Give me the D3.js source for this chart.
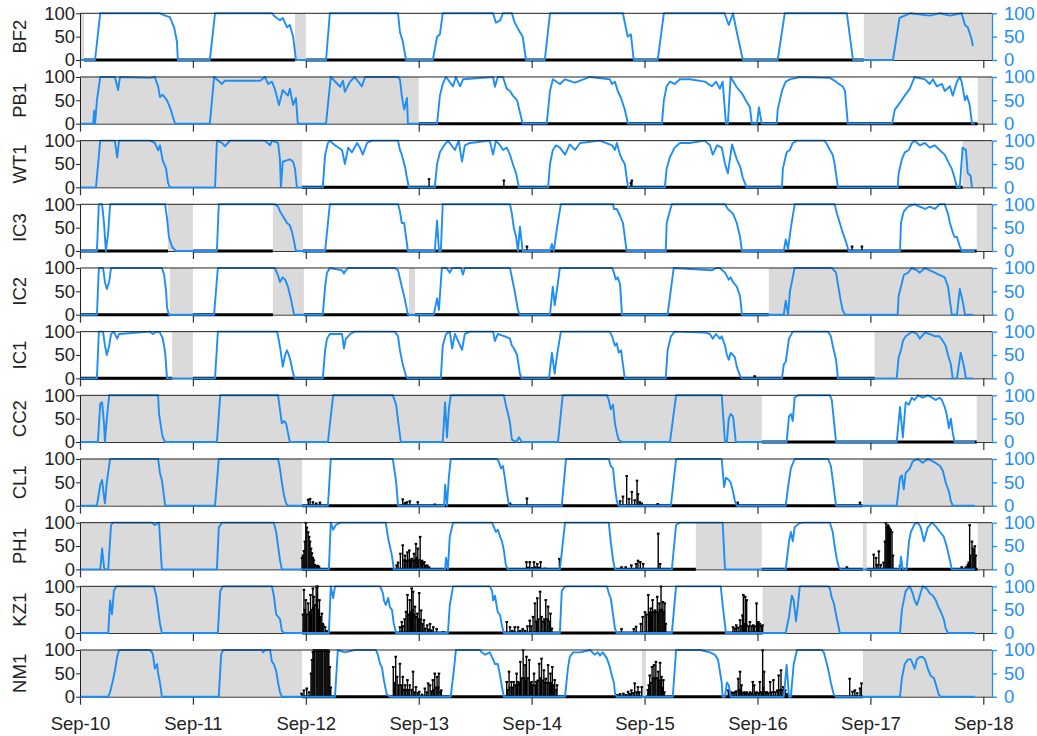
<!DOCTYPE html>
<html><head><meta charset="utf-8">
<script src="https://cdn.jsdelivr.net/npm/d3@7"></script>
<style>
body{margin:0;background:#fff}
svg{display:block}
text{font-family:"Liberation Sans",Arial,Helvetica,sans-serif}
</style>
</head><body>
<svg id="chart" width="1037" height="736"></svg>
<script>
// ---------- DATA (time = hours since Sep-10 00:00, value = %) ----------
const stations = ["BF2","PB1","WT1","IC3","IC2","IC1","CC2","CL1","PH1","KZ1","NM1"];
const tickLabels = ["Sep-10","Sep-11","Sep-12","Sep-13","Sep-14","Sep-15","Sep-16","Sep-17","Sep-18"];
const yTicks = [0,50,100];
const dataEndHour = 190.4;

const blueBF2 = [[0,0],[3.2,0],[4.3,100],[17.0,100],[18.1,95],[19.1,92],[20.0,70],[20.6,40],[20.8,0],[27.6,0],[28.7,100],[40.8,100],[41.4,93],[42.5,85],[43.1,90],[44.0,70],[44.6,75],[45.3,50],[45.9,0],[52.3,0],[53.1,100],[67.6,100],[68.0,60],[68.6,40],[69.3,0],[75.0,0],[75.9,50],[76.5,55],[77.1,100],[87.8,100],[88.4,80],[89.3,85],[89.9,100],[91.8,100],[92.4,80],[93.5,60],[94.1,50],[94.8,0],[98.8,0],[99.9,100],[115.4,100],[116.0,70],[116.4,50],[117.1,55],[117.7,0],[122.8,0],[124.1,100],[137.0,100],[137.9,75],[138.8,100],[139.6,60],[140.9,0],[148.3,0],[149.8,100],[163.0,100],[164.3,0],[172.8,0],[174.2,90],[176.4,100],[180.6,95],[182.7,100],[184.9,95],[187.4,100],[188.1,75],[188.7,70],[189.5,45],[189.8,30]];
const bluePB1 = [[0,0],[2.8,0],[3.0,28],[3.2,0],[3.6,50],[4.3,100],[7.4,100],[8.1,72],[8.5,100],[14.9,98],[15.9,100],[16.6,80],[17.0,57],[17.6,62],[18.5,50],[19.3,30],[20.2,0],[27.6,0],[28.5,100],[30.2,85],[30.8,92],[38.3,92],[39.3,100],[40.0,85],[40.8,90],[41.4,75],[42.3,40],[43.1,72],[44.2,60],[44.6,75],[45.3,40],[45.9,55],[46.3,0],[52.3,0],[53.3,100],[55.3,79],[55.9,92],[56.3,68],[57.4,90],[58.4,100],[59.9,80],[60.6,100],[67.6,100],[68.0,95],[68.4,60],[68.9,30],[69.5,55],[69.7,0],[75.9,0],[76.5,60],[77.1,85],[77.8,100],[79.3,80],[79.9,100],[80.8,80],[81.4,95],[87.8,100],[88.2,79],[88.8,100],[89.9,100],[90.7,75],[91.4,70],[92.0,60],[92.9,50],[93.5,25],[94.1,0],[99.2,0],[99.9,70],[100.5,95],[102.0,85],[103.1,95],[105.2,88],[108.4,100],[112.6,95],[113.1,85],[113.7,90],[114.3,70],[115.0,55],[115.8,30],[116.5,0],[123.7,0],[124.1,50],[124.7,80],[125.4,90],[126.4,85],[127.5,95],[129.6,95],[132.8,90],[134.3,80],[135.2,90],[136.0,75],[136.6,90],[137.3,0],[137.7,0],[138.3,100],[139.6,78],[140.7,65],[141.5,50],[142.4,35],[142.8,0],[143.9,0],[144.3,35],[144.9,0],[148.1,0],[148.3,30],[149.2,70],[150.0,90],[150.9,95],[153.0,100],[159.4,98],[160.7,90],[161.3,85],[162.1,80],[162.6,70],[163.2,0],[172.6,0],[173.2,30],[174.3,45],[175.3,60],[176.4,75],[177.4,100],[179.6,95],[180.6,85],[181.3,95],[182.1,80],[183.2,85],[183.8,70],[184.9,80],[185.5,60],[186.4,90],[187.0,100],[187.4,90],[188.1,50],[188.5,60],[189.1,40],[189.6,0],[190.2,0]];
const blueWT1 = [[0,0],[3.4,0],[4.3,100],[7.4,100],[7.9,64],[8.3,100],[14.9,100],[15.9,95],[16.6,79],[17.0,90],[17.6,57],[18.3,40],[18.7,10],[19.1,0],[28.7,0],[29.1,100],[30.2,95],[30.8,88],[31.9,100],[39.3,100],[40.4,90],[40.8,100],[42.1,95],[42.5,60],[42.7,0],[43.1,55],[44.6,60],[45.3,55],[45.7,40],[46.1,0],[51.6,0],[52.1,70],[52.7,95],[53.1,100],[54.2,90],[55.7,80],[56.3,50],[57.0,85],[57.8,75],[58.9,95],[59.5,85],[60.1,70],[61.0,95],[62.1,100],[67.6,100],[68.0,80],[68.4,70],[69.1,43],[69.5,20],[69.9,0],[75.4,0],[75.9,50],[76.5,75],[77.4,90],[78.2,100],[79.7,80],[80.5,100],[81.2,55],[81.8,90],[82.9,95],[87.1,100],[87.8,70],[88.4,100],[89.3,90],[89.9,80],[90.7,85],[91.4,70],[92.0,50],[92.7,30],[93.3,0],[99.5,0],[99.9,50],[100.5,80],[101.2,90],[102.0,85],[103.1,70],[104.1,92],[105.2,80],[106.3,95],[110.5,100],[113.1,90],[113.7,80],[114.1,95],[114.8,70],[115.2,60],[115.8,50],[116.2,20],[116.5,0],[124.3,0],[124.7,40],[125.4,65],[126.4,85],[127.5,95],[129.6,95],[132.8,100],[133.9,90],[134.5,70],[135.4,90],[136.4,85],[137.1,50],[137.7,30],[138.6,92],[139.6,60],[140.3,45],[140.9,20],[141.7,0],[149.2,0],[149.4,40],[150.2,75],[150.9,80],[151.5,95],[152.4,100],[158.3,100],[158.9,90],[159.4,80],[160.0,70],[160.4,50],[161.1,0],[173.8,0],[174.0,30],[174.7,60],[175.3,75],[176.2,80],[176.8,95],[177.4,100],[178.5,90],[179.6,95],[180.6,85],[181.7,90],[182.7,80],[183.8,70],[184.5,55],[185.3,40],[185.9,20],[186.4,0],[187.0,0],[187.6,85],[188.3,80],[188.7,30],[189.3,25],[189.6,0]];
const blueIC3 = [[0,0],[3.6,0],[4.0,100],[4.7,100],[5.1,60],[5.5,0],[6.0,40],[6.4,100],[18.1,100],[18.5,70],[18.9,30],[19.6,8],[20.4,0],[29.1,0],[29.5,100],[41.4,100],[42.1,95],[42.5,85],[43.1,75],[44.0,60],[44.6,55],[45.1,40],[45.5,20],[45.9,0],[52.1,0],[53.1,100],[67.6,100],[68.0,85],[68.4,60],[68.9,60],[69.3,30],[69.7,0],[75.4,0],[75.9,65],[76.3,0],[76.7,0],[77.1,100],[91.4,100],[91.8,80],[92.2,50],[92.7,30],[93.1,0],[93.5,52],[94.1,0],[99.9,0],[100.3,15],[100.7,0],[101.4,50],[102.2,100],[113.3,100],[113.5,90],[114.1,90],[114.8,75],[115.4,60],[115.8,30],[116.2,0],[124.5,0],[124.7,60],[125.2,80],[125.8,100],[137.1,100],[137.7,90],[138.8,80],[139.6,60],[140.3,30],[140.7,0],[149.6,0],[150.0,25],[150.5,5],[151.1,50],[151.9,100],[160.4,100],[160.9,80],[161.5,60],[162.1,40],[162.8,20],[163.4,0],[174.3,0],[174.5,60],[175.1,85],[176.0,95],[177.4,100],[178.5,95],[179.6,90],[180.6,95],[181.7,90],[182.7,100],[183.8,100],[184.5,80],[184.9,60],[185.5,40],[185.9,30],[186.4,30],[187.0,10],[187.4,0],[190.2,0]];
const blueIC2 = [[0,0],[3.6,0],[4.0,100],[4.9,100],[5.3,70],[5.7,55],[6.2,70],[6.6,100],[17.4,100],[17.9,85],[18.3,50],[18.5,15],[18.9,0],[28.5,0],[29.3,100],[41.4,100],[42.1,84],[42.5,70],[43.1,80],[43.6,75],[44.2,60],[44.8,35],[45.5,0],[51.6,0],[52.1,60],[52.5,90],[53.1,100],[55.7,95],[56.1,88],[56.5,95],[57.0,100],[66.9,100],[67.6,95],[68.4,60],[68.9,40],[69.3,20],[69.7,0],[75.2,0],[75.9,35],[76.3,10],[76.9,100],[77.9,100],[78.6,90],[79.1,100],[81.0,100],[81.4,86],[81.8,100],[91.4,100],[91.8,80],[92.4,50],[93.1,10],[93.5,0],[99.9,0],[100.5,60],[100.9,20],[101.4,55],[102.0,100],[113.1,100],[113.5,90],[113.9,75],[114.3,80],[114.8,65],[115.2,0],[124.9,0],[126.2,100],[134.3,95],[135.2,100],[136.0,100],[137.1,90],[137.9,75],[138.3,80],[138.8,70],[139.6,60],[140.3,40],[140.7,0],[149.6,0],[150.0,30],[150.5,0],[150.9,50],[151.9,100],[159.8,100],[160.7,90],[161.1,65],[161.7,30],[162.1,10],[162.6,0],[173.8,0],[174.0,40],[174.5,60],[175.1,85],[176.0,90],[176.8,100],[177.9,95],[178.5,90],[179.6,100],[180.6,95],[181.7,90],[182.7,85],[183.8,80],[184.5,60],[184.9,30],[185.3,0],[186.4,0],[187.0,55],[187.6,30],[188.1,0],[189.8,0]];
const blueIC1 = [[0,0],[3.6,0],[4.0,100],[4.9,100],[5.3,70],[5.7,50],[6.2,70],[6.6,95],[7.2,100],[7.9,85],[8.3,95],[14.9,100],[15.5,95],[16.2,100],[17.0,98],[17.6,85],[18.1,55],[18.5,0],[28.7,0],[29.3,100],[41.9,100],[42.3,80],[42.7,55],[43.1,25],[43.6,50],[44.0,60],[44.4,50],[44.8,35],[45.3,10],[45.7,0],[51.6,0],[52.1,60],[52.5,85],[53.1,95],[55.7,95],[56.1,64],[56.5,85],[57.0,90],[57.4,95],[58.4,100],[66.9,100],[67.6,90],[68.0,60],[68.6,30],[69.3,5],[69.7,0],[76.7,0],[77.1,70],[77.8,95],[78.6,100],[79.1,64],[79.7,95],[81.2,61],[81.8,95],[82.9,100],[87.8,100],[88.2,80],[88.8,95],[90.3,90],[91.4,85],[91.8,70],[92.2,65],[92.9,50],[93.5,10],[93.9,0],[99.7,0],[100.3,55],[100.9,10],[101.4,50],[102.2,100],[112.6,100],[113.1,90],[113.7,70],[114.1,75],[114.5,55],[115.0,60],[115.4,30],[115.8,0],[124.5,0],[124.9,60],[125.6,90],[126.4,100],[132.8,98],[133.9,95],[134.5,85],[135.2,95],[136.0,85],[136.4,90],[137.1,70],[137.5,50],[137.9,40],[138.3,55],[138.8,50],[139.2,45],[139.6,25],[140.3,5],[140.7,0],[149.2,0],[149.6,30],[150.0,35],[150.7,85],[151.5,100],[159.0,100],[159.6,90],[160.0,70],[160.7,40],[161.1,0],[173.6,0],[174.0,45],[174.5,60],[174.9,80],[175.5,90],[176.2,95],[176.8,100],[177.9,95],[178.5,85],[179.6,98],[180.6,95],[181.7,90],[182.7,90],[183.4,80],[184.0,70],[184.5,50],[185.1,30],[185.5,0],[186.4,0],[187.2,55],[187.9,25],[188.3,0],[189.8,0]];
const blueCC2 = [[0,0],[3.8,0],[4.3,82],[4.7,85],[5.1,40],[5.3,0],[5.7,50],[6.2,100],[16.6,100],[16.8,60],[17.4,20],[17.6,10],[18.1,0],[29.1,0],[29.8,100],[42.1,100],[42.5,70],[42.9,40],[43.4,45],[43.8,40],[44.2,20],[44.6,0],[52.7,0],[53.8,100],[66.5,100],[67.2,80],[67.8,30],[68.2,0],[77.1,0],[77.6,85],[78.0,10],[78.4,70],[78.8,100],[90.1,100],[90.5,80],[91.0,60],[91.4,40],[91.8,5],[92.7,0],[93.3,10],[93.9,0],[101.6,0],[102.6,100],[112.0,100],[112.4,90],[112.8,70],[113.3,80],[113.7,40],[114.1,20],[114.5,5],[115.2,0],[125.4,0],[126.7,100],[136.4,100],[137.1,0],[137.5,0],[137.9,50],[138.3,60],[138.8,55],[139.4,0],[150.2,0],[150.7,55],[151.1,60],[151.5,45],[151.9,95],[152.6,100],[159.4,100],[159.8,90],[160.2,50],[160.7,0],[173.6,0],[174.3,75],[174.9,10],[175.5,85],[176.2,80],[176.8,95],[177.4,90],[178.1,100],[179.1,95],[180.2,100],[181.1,95],[181.9,90],[182.7,95],[183.2,90],[183.8,75],[184.2,60],[184.7,30],[185.1,50],[185.5,20],[185.9,0],[190.2,0]];
const blueCL1 = [[0,0],[3.6,0],[4.3,45],[4.7,55],[5.1,20],[5.3,5],[5.7,50],[6.4,100],[16.6,100],[17.0,70],[17.4,55],[17.6,40],[18.1,0],[28.7,0],[29.5,100],[42.1,100],[42.5,80],[42.9,50],[43.4,20],[43.8,5],[44.2,0],[52.7,0],[53.3,100],[66.5,100],[67.2,50],[67.6,0],[77.4,0],[77.6,45],[78.0,0],[78.4,60],[78.8,100],[88.6,100],[89.0,95],[89.5,80],[89.9,85],[90.3,60],[90.7,30],[91.2,0],[102.4,0],[103.3,100],[112.4,100],[112.8,85],[113.3,80],[113.7,40],[114.1,10],[114.5,0],[125.6,0],[126.7,100],[136.4,100],[136.9,40],[137.3,60],[137.9,55],[138.3,50],[138.8,30],[139.2,10],[139.6,0],[150.0,0],[150.5,40],[151.1,80],[151.9,100],[159.0,100],[159.6,85],[160.2,40],[160.7,0],[173.6,0],[174.3,60],[174.7,65],[175.1,35],[175.5,70],[176.4,80],[177.0,95],[178.1,100],[179.1,92],[180.2,100],[181.3,95],[182.1,90],[182.8,85],[183.4,75],[184.0,50],[184.7,30],[185.1,10],[185.5,0],[190.2,0]];
const bluePH1 = [[0,0],[4.3,0],[4.7,45],[5.1,5],[5.3,0],[6.0,0],[6.6,95],[7.0,100],[15.3,100],[15.9,95],[16.8,100],[17.4,0],[29.1,0],[29.5,90],[30.2,100],[41.2,100],[41.7,80],[42.1,50],[42.5,20],[42.9,0],[52.9,0],[53.3,100],[53.8,85],[54.4,95],[55.3,100],[65.0,100],[65.5,66],[65.9,48],[66.3,30],[66.7,0],[77.6,0],[77.8,25],[78.2,0],[78.6,70],[79.3,100],[87.6,100],[88.0,90],[88.4,80],[88.8,85],[89.3,70],[89.7,60],[90.1,40],[90.5,10],[90.9,0],[102.0,0],[103.1,100],[112.4,100],[112.8,60],[113.3,20],[113.7,0],[125.8,0],[126.7,95],[127.5,100],[136.6,100],[137.1,0],[150.0,0],[150.7,60],[151.1,80],[151.5,60],[151.9,90],[152.8,98],[153.6,100],[159.4,100],[160.0,80],[160.4,50],[160.9,20],[161.3,5],[161.7,0],[174.3,0],[174.5,27],[174.9,0],[175.7,0],[176.2,60],[176.6,80],[177.4,97],[178.1,100],[178.7,90],[179.4,60],[180.2,90],[181.1,100],[181.9,92],[182.8,80],[183.6,70],[184.2,50],[184.9,20],[185.3,0],[190.2,0]];
const blueKZ1 = [[0,0],[6.0,0],[6.4,70],[6.8,40],[7.2,90],[7.7,100],[15.7,100],[16.2,80],[16.6,50],[17.0,20],[17.4,0],[29.3,0],[29.8,90],[30.4,100],[40.8,100],[41.2,80],[41.7,40],[42.1,35],[42.5,30],[42.9,5],[43.4,0],[52.9,0],[53.3,100],[53.8,75],[54.2,100],[63.8,100],[64.4,85],[64.6,70],[65.0,60],[65.5,75],[65.9,55],[66.3,50],[66.7,20],[67.2,0],[78.2,0],[78.6,60],[79.3,100],[87.1,100],[87.6,90],[87.8,70],[88.2,80],[88.6,56],[88.8,45],[89.3,38],[89.7,15],[90.1,0],[102.0,0],[102.4,90],[103.1,100],[112.0,100],[112.4,85],[112.8,75],[113.3,40],[113.7,10],[114.1,0],[125.8,0],[126.7,100],[136.2,100],[136.6,60],[137.3,0],[150.0,0],[150.7,35],[151.3,80],[151.7,70],[152.2,25],[152.6,60],[153.0,100],[159.0,100],[159.4,95],[159.8,75],[160.2,65],[160.7,40],[161.1,20],[161.5,0],[174.3,0],[174.7,50],[175.1,70],[175.5,90],[176.4,100],[177.0,85],[177.4,70],[177.9,60],[178.5,80],[179.1,100],[180.0,95],[180.6,85],[181.3,80],[181.9,70],[182.5,55],[183.0,45],[183.6,30],[184.0,10],[184.5,0],[190.2,0]];
const blueNM1 = [[0,0],[6.0,0],[6.4,10],[7.0,35],[7.4,55],[7.9,85],[8.3,100],[14.9,100],[15.3,95],[15.5,90],[15.9,60],[16.4,70],[16.6,50],[17.0,30],[17.4,0],[29.5,0],[30.0,90],[30.4,100],[38.7,100],[38.9,95],[39.3,100],[40.4,100],[40.8,75],[41.2,70],[41.7,55],[42.1,30],[42.5,10],[42.9,0],[54.2,0],[54.8,100],[56.3,95],[58.4,100],[62.9,100],[63.3,90],[63.8,70],[64.2,62],[64.6,35],[65.2,5],[65.9,0],[78.8,0],[79.5,60],[79.9,100],[85.0,100],[85.4,95],[86.1,90],[87.1,95],[87.8,80],[88.2,70],[88.8,70],[89.3,45],[89.7,20],[90.1,0],[103.1,0],[103.7,60],[104.1,85],[104.8,95],[106.3,95],[108.4,100],[109.4,90],[110.1,95],[110.5,88],[111.1,95],[112.0,82],[112.6,64],[113.1,43],[113.5,30],[113.7,7],[114.1,0],[126.0,0],[126.7,100],[131.8,100],[133.9,95],[134.9,90],[135.6,80],[136.0,55],[136.4,30],[136.6,0],[137.1,0],[137.5,30],[137.9,25],[138.3,0],[149.6,0],[150.2,68],[150.7,0],[151.1,0],[151.7,70],[152.4,100],[157.7,100],[158.1,95],[158.5,80],[159.0,60],[159.6,30],[160.2,5],[160.7,0],[174.3,0],[174.7,40],[175.3,70],[176.0,80],[176.6,80],[177.0,70],[177.4,60],[177.9,80],[178.5,85],[179.1,85],[179.6,80],[180.2,60],[180.8,45],[181.5,40],[182.1,20],[182.5,5],[183.0,0],[190.2,0]];

const blackBF2 = [];
const blackPB1 = [];
const blackWT1 = [[74.2,18],[90.1,15],[117.1,10],[117.3,15]];
const blackIC3 = [[95.0,10],[164.1,10],[166.2,10]];
const blackIC2 = [];
const blackIC1 = [[143.4,5]];
const blackCC2 = [];
const blackCL1 = [[48.5,13],[48.9,15],[49.5,8],[50.2,5],[51.0,7],[68.6,14],[69.1,6],[69.5,8],[70.1,10],[71.8,8],[75.4,3],[91.4,5],[95.0,16],[114.8,10],[115.4,20],[116.2,64],[116.7,15],[117.3,30],[117.9,12],[118.4,54],[118.6,25],[119.0,8],[119.4,5],[122.8,4],[139.8,7],[165.8,7]];
const blackPH1 = [[47.2,25],[47.4,30],[47.6,40],[47.8,60],[48.0,100],[48.2,90],[48.5,80],[48.7,70],[48.9,60],[49.1,45],[49.3,35],[49.5,25],[49.7,20],[49.9,10],[50.2,8],[50.4,5],[50.6,8],[50.8,5],
 [67.3,9],[67.6,15],[68.1,34],[68.6,52],[68.9,20],[69.1,30],[69.3,18],[69.6,37],[69.7,20],[70.0,41],[70.2,20],[70.5,23],[70.8,18],[71.0,34],[71.2,20],[71.4,55],[71.6,25],[71.8,45],[72.0,20],[72.3,70],[72.5,15],[72.7,19],[72.9,12],[73.2,16],[73.5,8],[73.8,9],[74.2,5],
 [94.9,16],[95.2,4],[95.6,16],[96.1,3],[96.5,16],[96.8,5],[97.2,12],[97.5,4],[97.9,16],[98.8,2],[101.9,23],
 [115.1,5],[116.0,5],[117.2,9],[118.2,12],[118.6,19],[119.1,16],[119.7,12],[122.9,77],[123.3,12],
 [163.0,5],
 [168.7,32],[169.2,25],[169.4,10],[169.8,39],[170.2,10],[170.8,15],[171.1,60],[171.3,100],[171.5,90],[171.7,95],[171.9,92],[172.1,88],[172.3,85],[172.6,80],[172.8,30],[174.3,8],
 [187.4,5],[188.3,5],[188.7,10],[188.9,15],[189.1,95],[189.3,30],[189.6,60],[189.8,45],[190.0,40],[190.2,50],[190.4,30]];
const blackKZ1 = [[47.4,40],[47.6,93],[47.8,50],[48.0,71],[48.2,40],[48.5,64],[48.8,45],[49.0,82],[49.2,50],[49.5,96],[49.6,55],[49.7,78],[49.9,60],[50.2,100],[50.4,70],[50.5,100],[50.7,50],[50.9,71],[51.1,35],[51.4,42],[51.6,20],[51.7,17],[52.1,13],[52.4,5],
 [68.0,13],[68.4,24],[68.6,15],[69.0,30],[69.3,46],[69.6,82],[69.9,40],[70.1,71],[70.3,45],[70.5,96],[70.7,50],[70.8,89],[71.0,40],[71.2,57],[71.4,35],[71.7,42],[71.9,30],[72.1,86],[72.3,30],[72.5,49],[72.8,20],[73.1,28],[73.4,10],[73.8,17],[74.1,8],[74.4,20],[74.7,6],[75.1,13],[75.8,9],[77.2,2],
 [90.7,24],[91.4,13],[91.9,5],[92.4,13],[93.1,13],[93.6,5],[94.1,9],[94.6,5],[95.1,15],[95.6,27],[95.9,15],[96.3,35],[96.7,64],[97.0,25],[97.2,75],[97.4,30],[97.8,89],[98.1,35],[98.4,25],[98.7,30],[99.0,71],[99.3,30],[99.5,57],[99.8,25],[100.0,42],[100.3,10],
 [115.1,9],[117.7,9],[118.2,14],[119.2,20],[119.6,35],[120.1,45],[120.4,40],[120.8,82],[121.0,45],[121.3,53],[121.5,45],[121.7,71],[122.0,45],[122.2,49],[122.4,45],[122.7,78],[122.9,45],[123.1,64],[123.3,50],[123.5,100],[123.7,50],[123.9,67],[124.1,45],[124.3,64],[124.5,20],
 [138.8,13],[139.2,10],[139.5,17],[139.9,12],[140.3,28],[140.5,15],[140.8,38],[141.0,82],[141.2,20],[141.4,78],[141.6,18],[141.7,71],[142.1,15],[142.4,24],[142.8,15],[143.1,17],[143.4,15],[143.8,64],[144.0,20],[144.2,24],[144.5,20],[144.8,15],[145.1,17]];
const blackNM1 = [[47.1,7],[47.6,14],[48.2,18],[48.7,10],[49.1,50],[49.3,79],[49.5,96],[49.7,100],[49.9,99],[50.2,100],[50.4,98],[50.6,100],[50.8,100],[51.0,99],[51.2,100],[51.4,100],[51.6,98],[51.9,100],[52.1,100],[52.3,99],[52.5,100],[52.7,100],[52.9,97],[53.1,64],[53.3,20],
 [66.6,64],[66.9,30],[67.1,86],[67.4,43],[67.7,25],[68.0,71],[68.3,25],[68.6,43],[68.9,15],[69.1,25],[69.3,15],[69.6,36],[69.9,15],[70.1,25],[70.5,15],[70.8,54],[71.1,10],[71.4,21],[71.8,8],[72.1,11],[72.7,5],[73.3,18],[73.7,10],[74.0,29],[74.4,25],[74.7,12],[75.0,36],[75.2,15],[75.4,50],[75.7,20],[75.9,43],[76.1,20],[76.3,50],[76.6,10],[76.8,14],
 [90.7,32],[90.9,15],[91.2,54],[91.4,20],[91.7,32],[92.0,20],[92.2,32],[92.5,25],[92.8,50],[93.0,25],[93.1,32],[93.4,30],[93.6,75],[93.9,40],[94.2,100],[94.4,40],[94.6,68],[94.7,35],[94.9,86],[95.2,40],[95.5,79],[95.7,30],[96.0,32],[96.2,25],[96.5,50],[96.8,25],[97.0,32],[97.3,35],[97.6,71],[97.9,40],[98.1,82],[98.4,35],[98.6,57],[98.8,30],[99.0,39],[99.3,30],[99.5,68],[99.8,30],[100.0,50],[100.2,30],[100.4,64],[100.7,25],[100.9,36],[101.2,15],[101.4,25],
 [114.2,4],[114.8,6],[115.5,7],[116.0,4],[116.5,11],[116.9,6],[117.2,14],[117.6,8],[117.9,29],[118.3,10],[118.6,21],[118.9,10],[119.4,21],[120.7,15],[120.9,25],[121.1,46],[121.3,30],[121.6,64],[121.8,40],[122.0,68],[122.2,40],[122.4,75],[122.7,40],[122.9,54],[123.1,35],[123.3,73],[123.5,30],[123.6,43],[123.8,20],[124.0,36],[124.2,10],
 [137.8,14],[138.1,8],[138.4,10],[138.8,8],[139.2,10],[139.5,12],[139.9,39],[140.1,15],[140.3,54],[140.5,12],[140.6,25],[140.9,8],[141.2,10],[141.5,6],[141.7,10],[142.1,6],[142.4,10],[142.7,8],[143.0,32],[143.3,25],[143.6,8],[143.8,10],[144.2,8],[144.5,32],[144.8,10],[145.1,100],[145.2,20],[145.4,54],[145.7,10],[146.0,10],[146.3,8],[146.7,32],[147.0,10],[147.4,36],[147.8,10],[148.2,14],[148.5,46],[148.8,15],[149.0,57],[149.2,15],[149.5,21],[149.7,8],[149.9,14],[150.3,6],
 [163.6,39],[164.2,11],[164.7,14],[165.2,8],[165.8,18],[166.1,29]];

// grey shaded intervals [startHour, endHour]
const greyBF2 = [[0,0.85],[45.7,48.0],[166.6,194]];
const greyPB1 = [[0,72.0],[190.8,194]];
const greyWT1 = [[0,47.2],[187.6,194]];
const greyIC3 = [[18.7,24.0],[41.0,47.4],[190.6,194]];
const greyIC2 = [[19.1,24.0],[41.0,47.6],[69.9,71.2],[146.4,194]];
const greyIC1 = [[19.6,24.0],[168.9,194]];
const greyCC2 = [[0,144.9],[190.6,194]];
const greyCL1 = [[0,47.2],[166.4,194]];
const greyPH1 = [[0,47.2],[130.9,144.9],[166.4,167.2],[190.8,194]];
const greyKZ1 = [[0,47.2],[145.1,194]];
const greyNM1 = [[0,47.2],[119.4,120.3],[166.4,194]];

const blueSeries = [blueBF2,bluePB1,blueWT1,blueIC3,blueIC2,blueIC1,blueCC2,blueCL1,bluePH1,blueKZ1,blueNM1];
const blackSeries = [blackBF2,blackPB1,blackWT1,blackIC3,blackIC2,blackIC1,blackCC2,blackCL1,blackPH1,blackKZ1,blackNM1];
const greySeries = [greyBF2,greyPB1,greyWT1,greyIC3,greyIC2,greyIC1,greyCC2,greyCL1,greyPH1,greyKZ1,greyNM1];

// ---------- DRAWING ----------
const BLUE = "#1e8ef5", GREY = "#dadada";
const start = new Date(2019, 8, 10, 0, 0, 0);
const t = h => new Date(start.getTime() + h * 3600e3);
const svg = d3.select("#chart");
const left = 80, right = 992;
const x = d3.scaleTime().domain([t(0), t(193.85)]).range([left, right]);
const top0 = 13.3, step = 63.67, ph = 46.7;
const dayTicks = d3.timeDay.range(t(0), t(193));

stations.forEach((name, i) => {
  const top = top0 + i * step, bottom = top + ph;
  const y = d3.scaleLinear().domain([0, 100]).range([bottom, top]);
  const g = svg.append("g");

  // grey shading
  g.selectAll("rect.grey").data(greySeries[i]).join("rect")
    .attr("x", d => x(t(d[0]))).attr("y", top)
    .attr("width", d => Math.min(x(t(d[1])), right) - x(t(d[0])))
    .attr("height", ph).attr("fill", GREY);

  // x axis (ticks on every panel, labels on the last)
  const xa = d3.axisBottom(x).tickValues(dayTicks).tickSize(8).tickSizeOuter(0).tickPadding(12)
    .tickFormat((d, k) => i === stations.length - 1 ? tickLabels[k] : "");
  const gx = g.append("g").attr("transform", `translate(0,${bottom})`).call(xa);
  gx.select(".domain").attr("stroke", "#333").attr("stroke-width", 1);
  gx.selectAll(".tick line").attr("stroke", "#333").attr("stroke-width", 1.2);
  gx.selectAll("text").attr("font-size", 18.5).attr("fill", "#222");

  // black series baseline where data exist (outside grey)
  const gaps = greySeries[i].slice().sort((a, b) => a[0] - b[0]);
  let segs = [], cur = 0;
  gaps.forEach(gp => { if (gp[0] > cur) segs.push([cur, gp[0]]); cur = Math.max(cur, gp[1]); });
  if (cur < dataEndHour) segs.push([cur, dataEndHour]);
  g.selectAll("line.base").data(segs).join("line")
    .attr("x1", d => x(t(d[0]))).attr("x2", d => x(t(d[1])))
    .attr("y1", y(0)).attr("y2", y(0))
    .attr("stroke", "#000").attr("stroke-width", 3);

  // black bars
  g.selectAll("line.bar").data(blackSeries[i]).join("line")
    .attr("x1", d => x(t(d[0]))).attr("x2", d => x(t(d[0])))
    .attr("y1", y(0)).attr("y2", d => y(d[1]))
    .attr("stroke", "#000").attr("stroke-width", 1.4);
  g.selectAll("rect.cap").data(blackSeries[i]).join("rect")
    .attr("x", d => x(t(d[0])) - 1.3).attr("y", d => y(d[1]) - 0.8)
    .attr("width", 2.6).attr("height", 2).attr("fill", "#000");

  // blue line
  const line = d3.line().x(d => x(t(d[0]))).y(d => y(d[1]));
  g.append("path").datum(blueSeries[i]).attr("d", line)
    .attr("fill", "none").attr("stroke", BLUE).attr("stroke-width", 1.9).attr("stroke-linejoin", "round");

  // top border
  g.append("line").attr("x1", left).attr("x2", right).attr("y1", top).attr("y2", top)
    .attr("stroke", "#222").attr("stroke-width", 1);

  // left axis
  const gl = g.append("g").attr("transform", `translate(${left},0)`)
    .call(d3.axisLeft(y).tickValues(yTicks).tickSize(4).tickSizeOuter(0).tickPadding(1));
  gl.select(".domain").attr("stroke", "#222");
  gl.selectAll(".tick line").attr("stroke", "#222");
  gl.selectAll("text").attr("font-size", 18.5).attr("fill", "#222");

  // right axis
  const gr = g.append("g").attr("transform", `translate(${right},0)`)
    .call(d3.axisRight(y).tickValues(yTicks).tickSize(5).tickSizeOuter(0).tickPadding(7));
  gr.select(".domain").attr("stroke", BLUE).attr("stroke-width", 1.3);
  gr.selectAll(".tick line").attr("stroke", BLUE).attr("stroke-width", 1.3);
  gr.selectAll("text").attr("font-size", 18.5).attr("fill", BLUE);

  // station label
  g.append("text").attr("transform", `translate(26,${(top + bottom) / 2}) rotate(-90)`)
    .attr("text-anchor", "middle").attr("font-size", 18.5).attr("fill", "#222").text(name);
});
</script>
</body></html>
